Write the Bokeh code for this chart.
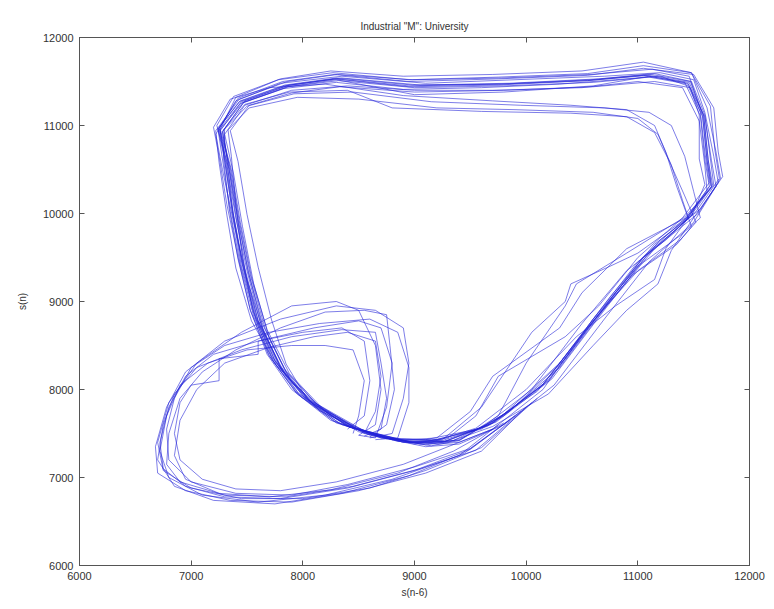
from bokeh.plotting import figure
from bokeh.models import ColumnDataSource, Range1d, FixedTicker, LinearAxis
from bokeh.embed import file_html
from bokeh.resources import INLINE

title_text = 'Industrial "M": University'
x_label = "s(n-6)"
y_label = "s(n)"
tick_values = [6000, 7000, 8000, 9000, 10000, 11000, 12000]

# ---- main daily loops (x = s(n-6), y = s(n)) ----
loop1_x = [8900, 8400, 8020, 7760, 7580, 7450, 7370, 7300, 7260, 7460, 7860, 8300, 9000, 9800, 10600, 11100, 11450, 11580, 11620, 11660, 11460, 11050, 10650, 10200, 9700, 9250, 8900]
loop1_y = [7400, 7580, 7900, 8300, 8800, 9400, 10000, 10600, 10950, 11260, 11440, 11520, 11350, 11380, 11450, 11560, 11480, 11100, 10600, 10300, 9950, 9500, 8850, 8100, 7620, 7400, 7400]
loop2_x = [9000, 8500, 8100, 7820, 7640, 7520, 7420, 7340, 7230, 7380, 7800, 8250, 8900, 9700, 10500, 11050, 11480, 11620, 11700, 11740, 11540, 11150, 10750, 10300, 9800, 9350, 9000]
loop2_y = [7380, 7520, 7820, 8200, 8700, 9300, 9900, 10500, 11000, 11330, 11530, 11620, 11560, 11580, 11620, 11720, 11600, 11200, 10700, 10400, 10000, 9600, 9000, 8250, 7700, 7420, 7380]
loop3_x = [8800, 8300, 7950, 7700, 7550, 7460, 7400, 7360, 7330, 7520, 7950, 8500, 9200, 9900, 10600, 11000, 11180, 11300, 11400, 11480, 11350, 10950, 10550, 10100, 9600, 9150, 8800]
loop3_y = [7430, 7620, 7950, 8380, 8900, 9500, 10100, 10650, 10950, 11200, 11320, 11300, 11200, 11180, 11150, 11080, 10900, 10550, 10150, 9850, 9650, 9300, 8700, 7980, 7550, 7420, 7430]
loop4_x = [9100, 8600, 8150, 7850, 7650, 7500, 7380, 7280, 7220, 7400, 7800, 8350, 9100, 9900, 10700, 11200, 11500, 11600, 11680, 11720, 11500, 11100, 10700, 10250, 9800, 9400, 9100]
loop4_y = [7350, 7480, 7760, 8150, 8650, 9250, 9900, 10500, 10900, 11280, 11480, 11560, 11480, 11520, 11560, 11600, 11520, 11150, 10650, 10350, 9900, 9450, 8800, 8050, 7600, 7380, 7350]
loop5_x = [8700, 8250, 7900, 7680, 7530, 7420, 7320, 7250, 7200, 7350, 7700, 8200, 8900, 9700, 10400, 10900, 11150, 11250, 11350, 11450, 11250, 10900, 10500, 10050, 9600, 9100, 8700]
loop5_y = [7450, 7650, 8000, 8400, 8900, 9500, 10100, 10650, 10980, 11300, 11430, 11470, 11340, 11280, 11230, 11180, 11000, 10700, 10300, 9950, 9700, 9350, 8750, 8000, 7560, 7430, 7450]
loop6_x = [9200, 8700, 8250, 7900, 7700, 7560, 7460, 7380, 7300, 7480, 7900, 8400, 9000, 9700, 10500, 11000, 11400, 11550, 11600, 11620, 11400, 11000, 10600, 10150, 9700, 9400, 9200]
loop6_y = [7380, 7450, 7700, 8080, 8580, 9200, 9850, 10450, 10900, 11230, 11400, 11450, 11400, 11400, 11430, 11500, 11430, 11050, 10550, 10250, 9880, 9450, 8800, 8000, 7550, 7400, 7380]
loop7_x = [8950, 8450, 8050, 7780, 7600, 7480, 7400, 7330, 7280, 7480, 7880, 8350, 9050, 9850, 10650, 11150, 11480, 11600, 11650, 11680, 11420, 10900, 10450, 10350, 10000, 9750, 9400, 8950]
loop7_y = [7400, 7560, 7870, 8280, 8780, 9380, 9980, 10580, 10930, 11280, 11460, 11540, 11460, 11480, 11530, 11590, 11500, 11120, 10620, 10320, 9960, 9550, 9200, 8950, 8300, 7700, 7420, 7400]
loop8_x = [8850, 8350, 7980, 7730, 7560, 7440, 7350, 7280, 7240, 7430, 7830, 8280, 8950, 9750, 10550, 11050, 11420, 11560, 11600, 11640, 11450, 11250, 11150, 10800, 10450, 10000, 9550, 9150, 8850]
loop8_y = [7410, 7600, 7920, 8330, 8830, 9420, 10020, 10620, 10960, 11270, 11450, 11530, 11440, 11460, 11510, 11570, 11490, 11110, 10610, 10310, 9950, 9600, 9250, 8950, 8600, 8000, 7560, 7400, 7410]
loop9_x = [9000, 8500, 8080, 7800, 7620, 7500, 7400, 7320, 7260, 7440, 7830, 8300, 8900, 9600, 10300, 10800, 11200, 11450, 11560, 11600, 11640, 11400, 11000, 10650, 10350, 9750, 9550, 9300, 9000]
loop9_y = [7390, 7540, 7850, 8250, 8750, 9350, 9950, 10550, 10940, 11250, 11420, 11490, 11410, 11430, 11470, 11520, 11560, 11450, 11150, 10700, 10350, 9950, 9500, 8950, 8600, 8150, 7700, 7450, 7390]
loop10_x = [9100, 8550, 8150, 7850, 7660, 7530, 7430, 7350, 7250, 7420, 7820, 8280, 8950, 9750, 10550, 11050, 11500, 11680, 11720, 11760, 11560, 11200, 10800, 10350, 9850, 9400, 9100]
loop10_y = [7370, 7500, 7800, 8200, 8700, 9300, 9920, 10520, 10970, 11310, 11500, 11580, 11500, 11530, 11570, 11650, 11580, 11200, 10700, 10420, 10050, 9700, 9100, 8350, 7750, 7430, 7370]
loop11_x = [8750, 8280, 7930, 7690, 7530, 7420, 7340, 7290, 7300, 7500, 7920, 8450, 9150, 9950, 10700, 11100, 11300, 11420, 11500, 11560, 11380, 11000, 10600, 10150, 9650, 9200, 8750]
loop11_y = [7440, 7640, 7980, 8400, 8900, 9480, 10060, 10620, 10960, 11220, 11360, 11380, 11270, 11230, 11200, 11150, 11000, 10650, 10250, 9950, 9750, 9400, 8800, 8050, 7580, 7430, 7440]
loop12_x = [8900, 8420, 8040, 7850, 7720, 7600, 7500, 7420, 7350, 7520, 7900, 8330, 9000, 9800, 10600, 11150, 11470, 11550, 11550, 11600, 11480, 11080, 10680, 10230, 9730, 9280, 8900]
loop12_y = [7400, 7570, 7890, 8290, 8790, 9390, 9990, 10590, 10940, 11230, 11370, 11440, 11380, 11400, 11440, 11500, 11430, 11120, 10620, 10330, 9970, 9520, 8870, 8120, 7630, 7410, 7400]
loop13_x = [8950, 8480, 8060, 7790, 7600, 7470, 7380, 7310, 7250, 7450, 7850, 8300, 8950, 9750, 10550, 11100, 11460, 11590, 11630, 11670, 11450, 11000, 10750, 10400, 10350, 10050, 9600, 9250, 8950]
loop13_y = [7400, 7560, 7880, 8280, 8780, 9380, 9980, 10580, 10950, 11270, 11450, 11530, 11450, 11470, 11510, 11570, 11490, 11110, 10610, 10320, 9960, 9550, 9400, 9200, 9000, 8650, 7800, 7430, 7400]
loop14_x = [9050, 8550, 8120, 7830, 7640, 7510, 7420, 7340, 7280, 7470, 7870, 8320, 9000, 9800, 10600, 11100, 11450, 11600, 11660, 11700, 11500, 11300, 11180, 10900, 10600, 10200, 9700, 9300, 9050]
loop14_y = [7380, 7530, 7840, 8240, 8740, 9340, 9940, 10540, 10930, 11260, 11440, 11510, 11430, 11450, 11490, 11550, 11470, 11100, 10600, 10310, 9950, 9580, 9200, 8900, 8500, 7950, 7580, 7400, 7380]
loop15_x = [8850, 8380, 8000, 7750, 7580, 7460, 7370, 7300, 7240, 7440, 7840, 8300, 8980, 9780, 10580, 11120, 11470, 11590, 11630, 11660, 11430, 10900, 10500, 10300, 9700, 9500, 9200, 8850]
loop15_y = [7420, 7600, 7930, 8330, 8830, 9420, 10020, 10610, 10960, 11280, 11460, 11540, 11460, 11470, 11520, 11580, 11500, 11110, 10610, 10310, 9950, 9600, 9100, 8700, 8150, 7750, 7450, 7420]
loop16_x = [8800, 8320, 7960, 7720, 7560, 7450, 7370, 7320, 7290, 7480, 7880, 8400, 8800, 9600, 10400, 10900, 11150, 11280, 11420, 11520, 11380, 11000, 10600, 10150, 9680, 9250, 8800]
loop16_y = [7430, 7620, 7960, 8380, 8880, 9460, 10050, 10620, 10950, 11240, 11380, 11400, 11200, 11160, 11140, 11100, 10920, 10600, 10200, 9900, 9700, 9350, 8780, 8060, 7600, 7420, 7430]
loop17_x = [9150, 8600, 8180, 7880, 7680, 7540, 7440, 7360, 7260, 7400, 7780, 8270, 8950, 9750, 10550, 11050, 11480, 11650, 11690, 11730, 11520, 11150, 10750, 10300, 9800, 9400, 9150]
loop17_y = [7360, 7490, 7780, 8180, 8680, 9280, 9900, 10500, 10960, 11320, 11520, 11600, 11520, 11550, 11590, 11680, 11600, 11220, 10720, 10400, 10020, 9650, 9050, 8300, 7720, 7420, 7360]
loop18_x = [8980, 8470, 8070, 7760, 7540, 7400, 7320, 7250, 7220, 7430, 7860, 8310, 8980, 9780, 10580, 11130, 11460, 11580, 11620, 11650, 11440, 11050, 10650, 10200, 9720, 9270, 8980]
loop18_y = [7400, 7560, 7880, 8280, 8780, 9380, 9980, 10580, 10940, 11300, 11500, 11580, 11520, 11540, 11580, 11640, 11560, 11110, 10610, 10320, 9960, 9510, 8860, 8110, 7630, 7410, 7400]

# ---- secondary low loops (bottom-left) ----
small1_x = [9900, 9500, 9000, 8400, 7800, 7300, 6950, 6750, 6720, 6800, 6950, 7200, 7600, 8100, 8500, 8700, 8800, 8750, 8650, 8500]
small1_y = [7700, 7320, 7080, 6880, 6760, 6780, 6900, 7100, 7400, 7800, 8150, 8400, 8550, 8700, 8780, 8700, 8300, 7800, 7450, 7480]
small2_x = [10000, 9600, 9100, 8500, 7900, 7350, 6950, 6700, 6680, 6780, 6950, 7300, 7800, 8300, 8650, 8900, 8950, 8900, 8800, 8600]
small2_y = [7800, 7300, 7050, 6850, 6720, 6740, 6850, 7050, 7350, 7800, 8200, 8550, 8800, 8950, 8900, 8700, 8300, 7900, 7500, 7450]
small3_x = [9700, 9300, 8900, 8300, 7800, 7400, 7100, 6900, 6850, 6900, 7000, 7250, 7250, 7600, 7600, 8000, 8350, 8550, 8600, 8550, 8400]
small3_y = [7550, 7350, 7150, 6950, 6850, 6870, 6980, 7200, 7500, 7850, 8050, 8100, 8350, 8400, 8550, 8650, 8700, 8550, 8100, 7700, 7550]
small4_x = [9850, 9450, 8950, 8350, 7750, 7200, 6850, 6700, 6750, 6850, 7050, 7450, 7900, 8350, 8650, 8700, 8750, 8700, 8550]
small4_y = [7650, 7280, 7020, 6820, 6700, 6740, 6900, 7200, 7600, 7950, 8250, 8450, 8600, 8680, 8650, 8300, 7900, 7550, 7470]
small5_x = [10050, 9550, 9050, 8450, 7850, 7300, 6900, 6780, 6800, 6900, 7100, 7400, 7800, 8200, 8550, 8750, 8780, 8820, 8750, 8600]
small5_y = [7850, 7310, 7100, 6900, 6780, 6800, 6950, 7150, 7500, 7900, 8200, 8450, 8700, 8880, 8900, 8850, 8500, 8000, 7600, 7460]
small6_x = [9750, 9400, 8800, 8200, 7600, 7100, 6800, 6720, 6780, 6900, 7150, 7500, 7900, 8200, 8450, 8550, 8500, 8450]
small6_y = [7600, 7250, 6980, 6800, 6720, 6800, 7000, 7300, 7700, 8050, 8300, 8450, 8500, 8500, 8450, 8100, 7700, 7500]
small7_x = [9950, 9500, 9000, 8400, 7900, 7400, 7000, 6800, 6780, 6850, 7000, 7300, 7700, 8150, 8600, 8850, 8950, 8950, 8850, 8650]
small7_y = [7750, 7330, 7120, 6920, 6800, 6820, 6950, 7200, 7550, 7900, 8250, 8500, 8650, 8750, 8800, 8650, 8250, 7850, 7450, 7430]
small8_x = [10100, 9600, 9100, 8600, 8000, 7450, 7000, 6750, 6700, 6800, 7050, 7450, 7900, 8300, 8500, 8650, 8700, 8650, 8500]
small8_y = [7900, 7340, 7080, 6880, 6760, 6760, 6880, 7080, 7400, 7850, 8300, 8650, 8950, 9000, 8900, 8500, 8000, 7600, 7480]
small9_x = [9800, 9350, 8850, 8250, 7700, 7250, 6950, 6850, 6900, 7050, 7300, 7700, 8100, 8400, 8650, 8700, 8650, 8550]
small9_y = [7620, 7300, 7050, 6860, 6780, 6820, 6980, 7250, 7650, 8000, 8300, 8480, 8600, 8650, 8550, 8150, 7750, 7500]

all_x = [loop1_x, loop2_x, loop3_x, loop4_x, loop5_x, loop6_x, loop7_x, loop8_x, loop9_x,
         loop10_x, loop11_x, loop12_x, loop13_x, loop14_x, loop15_x, loop16_x, loop17_x, loop18_x,
         small1_x, small2_x, small3_x, small4_x, small5_x, small6_x, small7_x, small8_x, small9_x]
all_y = [loop1_y, loop2_y, loop3_y, loop4_y, loop5_y, loop6_y, loop7_y, loop8_y, loop9_y,
         loop10_y, loop11_y, loop12_y, loop13_y, loop14_y, loop15_y, loop16_y, loop17_y, loop18_y,
         small1_y, small2_y, small3_y, small4_y, small5_y, small6_y, small7_y, small8_y, small9_y]

FONT = "Liberation Sans"
TXT = "#333333"
AX = "#555555"

p = figure(width=774, height=609, output_backend="svg", toolbar_location=None,
           x_range=Range1d(6000, 12000), y_range=Range1d(6000, 12000),
           min_border_left=79, min_border_right=25, min_border_top=37, min_border_bottom=44,
           x_axis_label=x_label, y_axis_label=y_label)
p.title.text = title_text
p.title.align = "center"
p.title.text_font = FONT
p.title.text_font_size = "10px"
p.title.text_font_style = "normal"
p.title.text_color = TXT
p.title.offset = 0
p.title.standoff = 12

p.grid.visible = False
p.outline_line_color = AX
p.background_fill_color = "white"
p.border_fill_color = "white"

src = ColumnDataSource(dict(xs=all_x, ys=all_y))
p.multi_line("xs", "ys", source=src, line_color="#2222d8", line_width=0.9, line_alpha=0.65)

for ax in (p.xaxis[0], p.yaxis[0]):
    ax.ticker = FixedTicker(ticks=tick_values)
    ax.major_tick_in = 5
    ax.major_tick_out = 0
    ax.minor_tick_in = 0
    ax.minor_tick_out = 0
    ax.axis_line_color = AX
    ax.major_tick_line_color = AX
    ax.major_label_text_font = FONT
    ax.major_label_text_font_size = "11px"
    ax.major_label_text_color = TXT
    ax.axis_label_text_font = FONT
    ax.axis_label_text_font_size = "10px"
    ax.axis_label_text_font_style = "normal"
    ax.axis_label_text_color = TXT
    ax.major_label_standoff = 6

p.xaxis[0].axis_label_standoff = 4
p.yaxis[0].axis_label_standoff = 12

for loc in ("above", "right"):
    a = LinearAxis(ticker=FixedTicker(ticks=tick_values))
    a.major_tick_in = 5
    a.major_tick_out = 0
    a.minor_tick_in = 0
    a.minor_tick_out = 0
    a.axis_line_color = AX
    a.major_tick_line_color = AX
    a.major_label_text_font_size = "0px"
    a.major_label_text_alpha = 0
    a.major_label_standoff = 0
    p.add_layout(a, loc)

open("out.html", "w").write(file_html(p, INLINE))
